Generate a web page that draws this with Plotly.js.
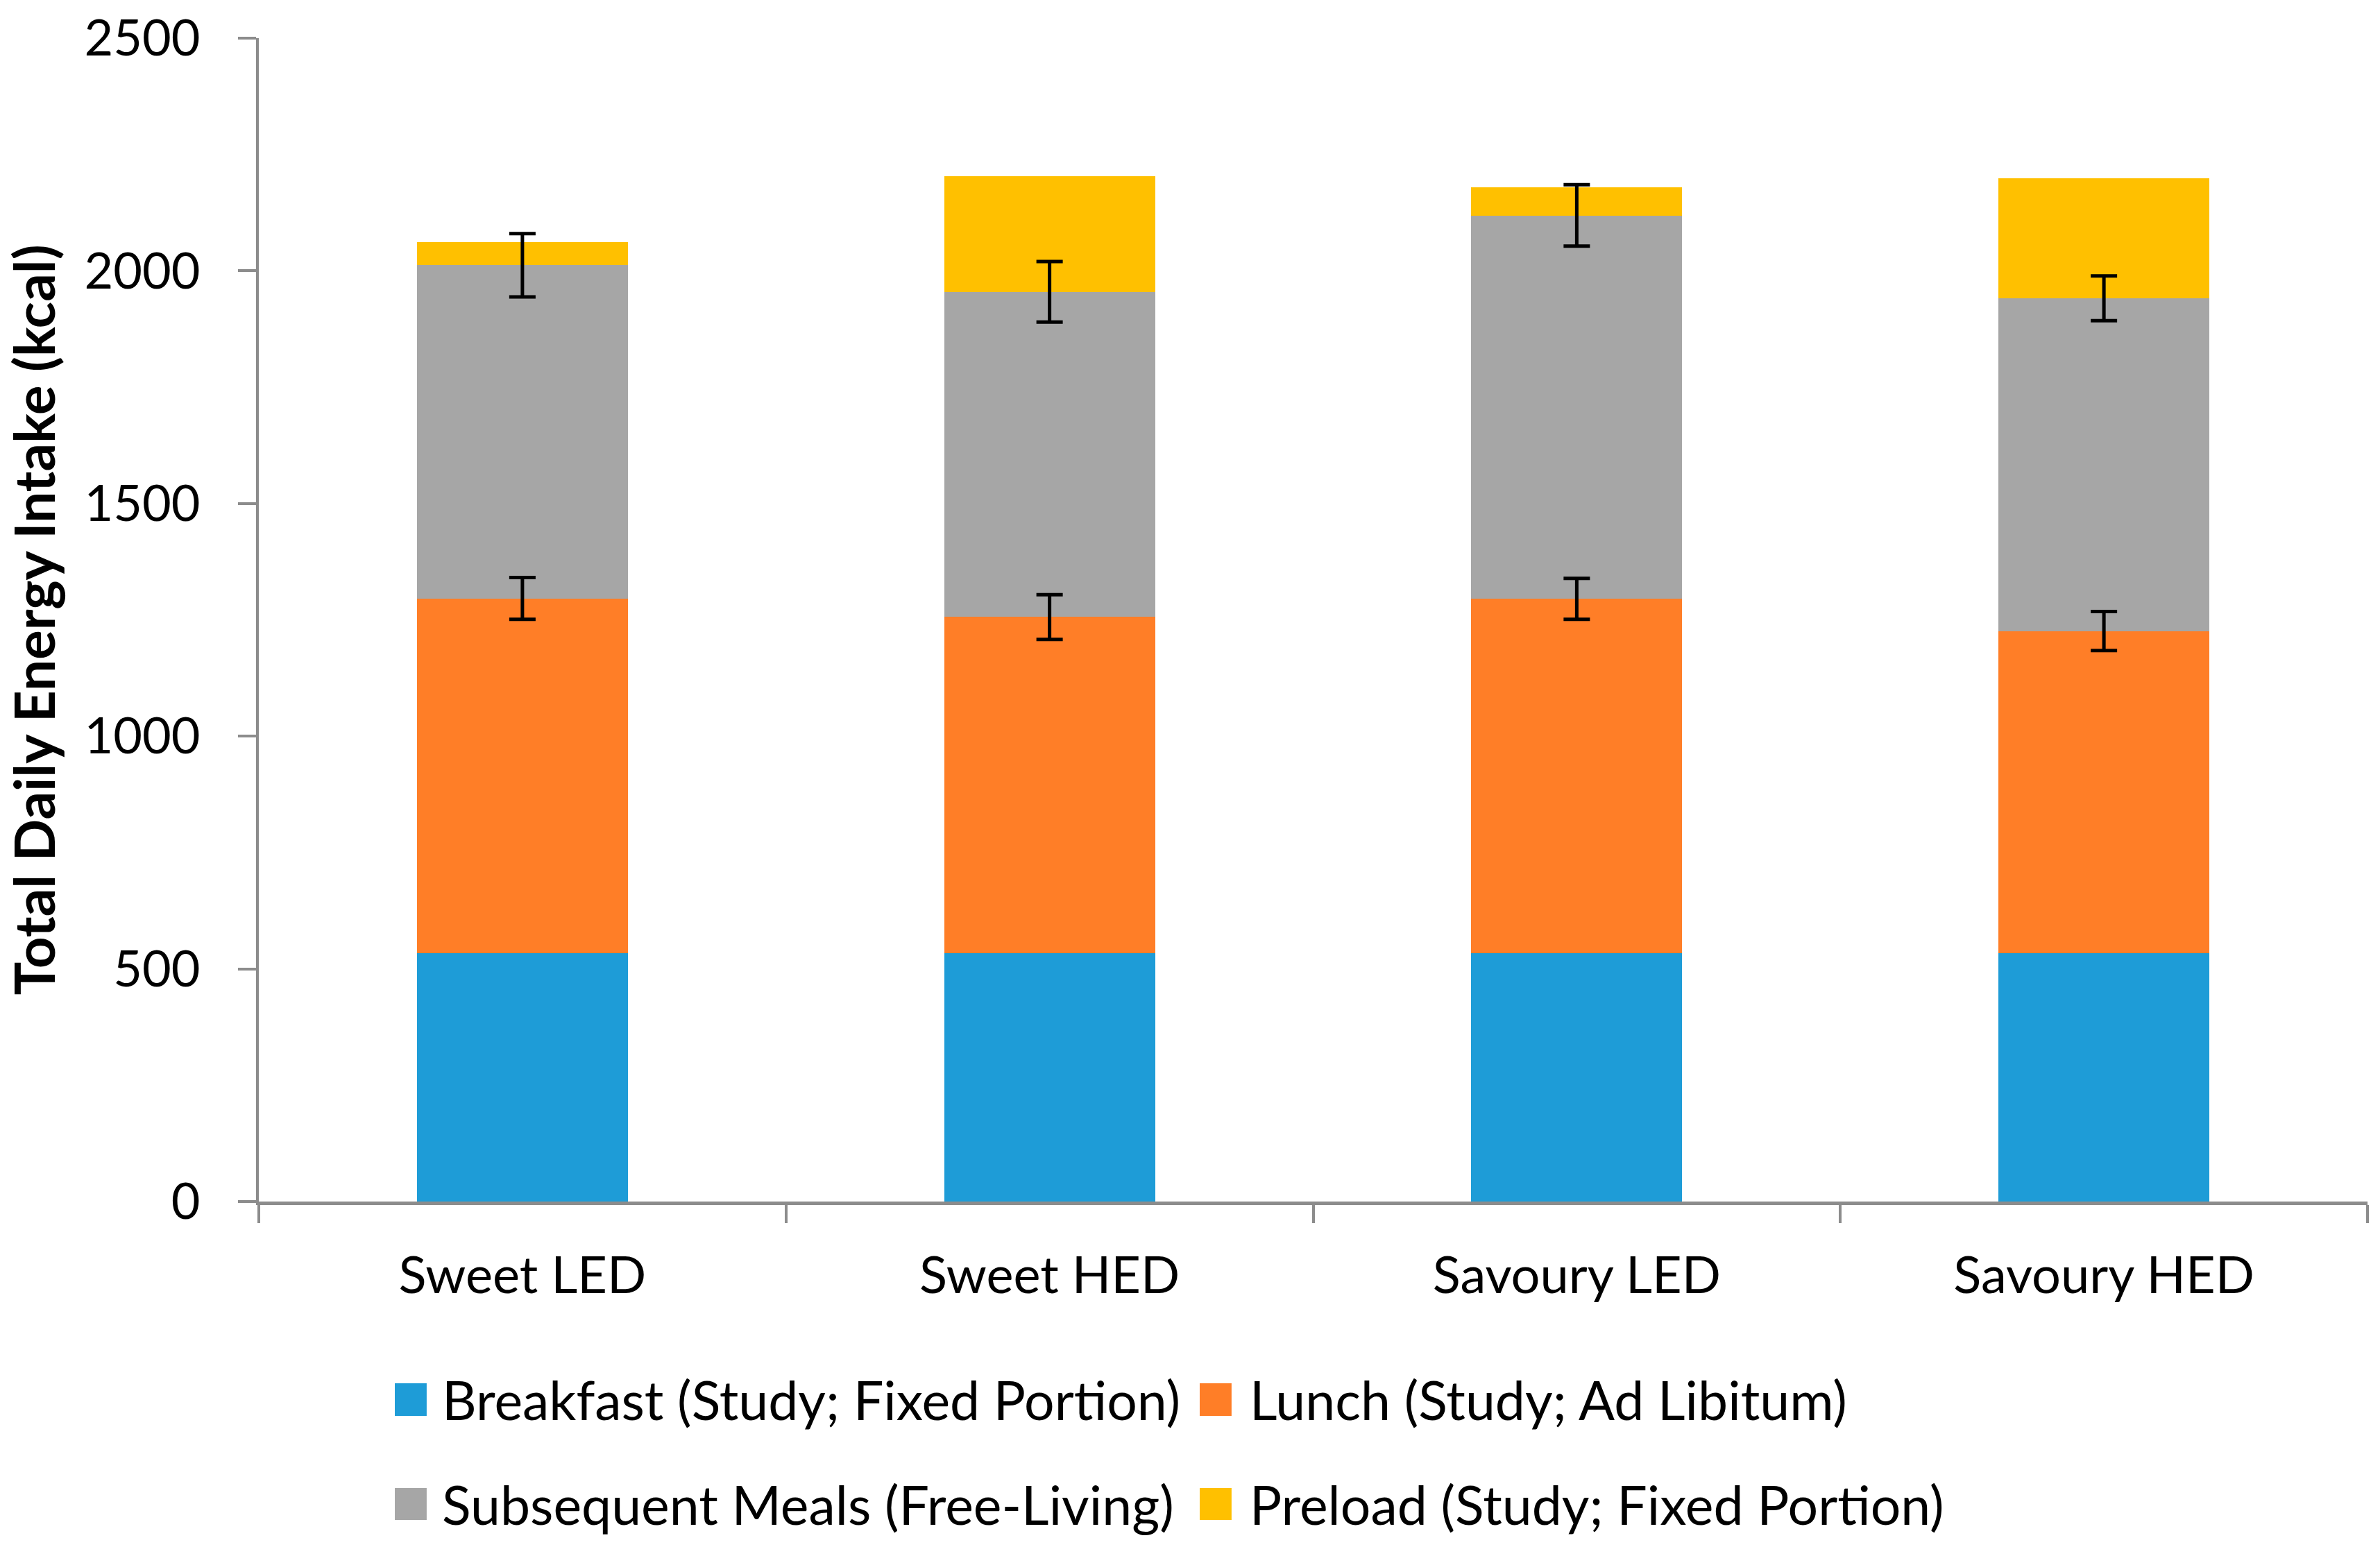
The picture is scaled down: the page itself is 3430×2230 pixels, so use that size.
<!DOCTYPE html>
<html>
<head>
<meta charset="utf-8">
<script src="https://cdn.plot.ly/plotly-3.0.1.min.js"></script>
<style>html,body{margin:0;padding:0;background:#fff;}#chart{width:3430px;height:2230px;}</style>
</head>
<body>
<div id="chart"></div>
<script>
const categories = ['Sweet LED', 'Sweet HED', 'Savoury LED', 'Savoury HED'];
const breakfast = [534, 534, 534, 534];
const lunch = [762, 722, 761, 692];
const subsequent = [716, 699, 824, 715];
const preload = [50, 249, 60, 258];
const lunchErr = [45, 48, 44, 42];
const subsequentErr = [68, 65, 66, 48];
const seriesNames = ['Breakfast (Study; Fixed Portion)', 'Lunch (Study; Ad Libitum)', 'Subsequent Meals (Free-Living)', 'Preload (Study; Fixed Portion)'];
const seriesColors = ['#1E9CD7', '#FF7E27', '#A6A6A6', '#FFC000'];
const yTicks = [0, 500, 1000, 1500, 2000, 2500];
const yTitle = 'Total Daily Energy Intake (kcal)';

const FONT = 'Lato, "Open Sans", sans-serif';
const errStyle = {thickness: 5, width: 19, color: '#000000'};

const seriesValues = [breakfast, lunch, subsequent, preload];
const seriesErr = [null, lunchErr, subsequentErr, null];

const traces = seriesValues.map((vals, i) => ({
  type: 'bar', x: categories, y: vals, name: seriesNames[i],
  marker: {color: seriesColors[i], line: {width: 0}},
  width: 0.4, showlegend: false, hoverinfo: 'skip'
}));

// error bars drawn on top of the stack (at the cumulative top of each segment)
const cumulative = [];
seriesValues.forEach((vals, i) => {
  cumulative.push(vals.map((v, j) => v + (i > 0 ? cumulative[i - 1][j] : 0)));
});
seriesErr.forEach((err, i) => {
  if (!err) return;
  traces.push({
    type: 'scatter', mode: 'markers', x: categories, y: cumulative[i],
    marker: {size: 1, color: 'rgba(0,0,0,0)'},
    error_y: Object.assign({type: 'data', array: err, visible: true}, errStyle),
    showlegend: false, hoverinfo: 'skip'
  });
});

// custom legend laid out in paper coordinates (2 x 2 grid)
const legCols = [[0.0645, 0.0796, 0.0862], [0.4462, 0.4613, 0.4692]];
const legRows = [[-0.1562, -0.1843, -0.170], [-0.2463, -0.2737, -0.260]];
const shapes = [];
const annotations = [];
seriesNames.forEach((nm, i) => {
  const c = legCols[i % 2], r = legRows[Math.floor(i / 2)];
  shapes.push({type: 'rect', xref: 'paper', yref: 'paper', x0: c[0], x1: c[1], y0: r[1], y1: r[0],
    fillcolor: seriesColors[i], line: {width: 0}});
  annotations.push({xref: 'paper', yref: 'paper', x: c[2], y: r[2], xanchor: 'left', yanchor: 'middle',
    text: nm, showarrow: false, font: {family: FONT, size: 77, color: '#000'}});
});

const axisColor = '#8C8C8C';
const layout = {
  width: 3430, height: 2230,
  margin: {l: 373, r: 18, t: 55, b: 498},
  paper_bgcolor: '#ffffff', plot_bgcolor: '#ffffff',
  barmode: 'stack',
  showlegend: false,
  font: {family: FONT, size: 72, color: '#000'},
  xaxis: {
    type: 'category', range: [-0.5, 3.5], tickson: 'boundaries',
    showline: true, linecolor: axisColor, linewidth: 5,
    ticks: 'outside', ticklen: 26, tickwidth: 4, tickcolor: axisColor,
    showgrid: false, zeroline: false, ticklabelstandoff: 38,
    tickfont: {family: FONT, size: 74, color: '#000'}
  },
  yaxis: {
    range: [0, 2500], tickvals: yTicks, ticktext: yTicks.map(String),
    showline: true, linecolor: axisColor, linewidth: 4,
    ticks: 'outside', ticklen: 26, tickwidth: 4, tickcolor: axisColor,
    showgrid: false, zeroline: false, ticklabelstandoff: 40,
    tickfont: {family: FONT, size: 72, color: '#000'},
    title: {text: '<b>' + yTitle + '</b>', font: {family: FONT, size: 80, color: '#000'}, standoff: 18}
  },
  shapes: shapes,
  annotations: annotations
};

Plotly.newPlot('chart', traces, layout, {staticPlot: true});
</script>
</body>
</html>
